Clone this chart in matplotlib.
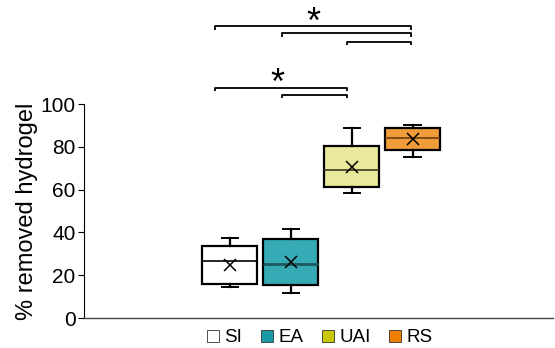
import matplotlib
matplotlib.use("Agg")
import matplotlib.pyplot as plt
from matplotlib.patches import Patch

plt.rcParams['font.family'] = ['Liberation Sans', 'DejaVu Sans']

groups = ["SI", "EA", "UAI", "RS"]
whislo = [14.5, 11.5, 58.3, 75.2]
q1 = [16.0, 15.6, 61.0, 78.3]
med = [26.6, 25.4, 69.0, 84.0]
q3 = [33.5, 37.0, 80.5, 89.0]
whishi = [37.5, 41.4, 89.0, 90.0]
means = [25.0, 26.0, 70.6, 83.6]

box_colors = ["#ffffff", "#36aab5", "#e9e99d", "#f19c3a"]
median_colors = ["#000000", "#1d5a60", "#3a3a20", "#6a4010"]
legend_colors = ["#ffffff", "#1a9aa6", "#c8c800", "#ee7d00"]

yticks = [0, 20, 40, 60, 80, 100]

# significance brackets: (x_start, x_end, y)
brackets = [(0.75, 3.97, 136.4), (1.85, 3.97, 133.0), (2.92, 3.97, 129.0),
            (0.75, 2.92, 107.6), (1.85, 2.92, 104.2)]
stars = [(2.37, 137.8), (1.78, 109.0)]

fig = plt.figure(figsize=(5.55, 3.48), dpi=100)
ax = fig.add_axes([84/555, 1-318/348, (553-84)/555, (318-104)/348])

positions = [1, 2, 3, 4]
stats = []
for i in range(4):
    stats.append(dict(whislo=whislo[i], q1=q1[i], med=med[i], q3=q3[i],
                      whishi=whishi[i], mean=means[i], fliers=[], label=groups[i]))

bp = ax.bxp(stats, positions=positions, widths=0.9, patch_artist=True,
            showmeans=True, meanline=False, showfliers=False,
            boxprops=dict(linewidth=1.6, edgecolor='black'),
            whiskerprops=dict(linewidth=1.6, color='black'),
            capprops=dict(linewidth=1.4, color='black'),
            capwidths=0.27,
            meanprops=dict(marker='x', markeredgecolor='black', markersize=8,
                           markeredgewidth=1.1),
            medianprops=dict(linewidth=1.2))
for i, b in enumerate(bp['boxes']):
    b.set_facecolor(box_colors[i])
for i, m in enumerate(bp['medians']):
    m.set_color(median_colors[i])
    if i == 1:
        m.set_linewidth(2.0)

ax.set_xlim(-1.39, 6.3)
ax.set_ylim(0, 100)
ax.set_yticks(yticks)
ax.set_xticks([])
ax.tick_params(axis='y', labelsize=15, length=4, width=0.8, direction='out', pad=2)
ax.spines['top'].set_visible(False)
ax.spines['right'].set_visible(False)
ax.spines['left'].set_linewidth(0.8)
ax.spines['bottom'].set_linewidth(1.0)
ax.spines['bottom'].set_color('#444444')
ax.set_ylabel('% removed hydrogel', fontsize=17, labelpad=2)

for (x0, x1, y) in brackets:
    ax.plot([x0, x0, x1, x1], [y - 1.6, y, y, y - 1.6], color='black', lw=1.3,
            clip_on=False, solid_capstyle='butt')
for (x, y) in stars:
    ax.text(x, y, '*', ha='center', va='center', fontsize=26, clip_on=False)

handles = [Patch(facecolor=c, edgecolor='#333333', linewidth=0.6) for c in legend_colors]
fig.legend(handles, groups, loc='center', bbox_to_anchor=(320/555, 1-338/348), ncol=4,
           frameon=False, fontsize=13.5, handlelength=0.62, handleheight=0.62,
           handletextpad=0.3, columnspacing=1.0, borderaxespad=0, borderpad=0)

fig.savefig('out.png', dpi=100)
